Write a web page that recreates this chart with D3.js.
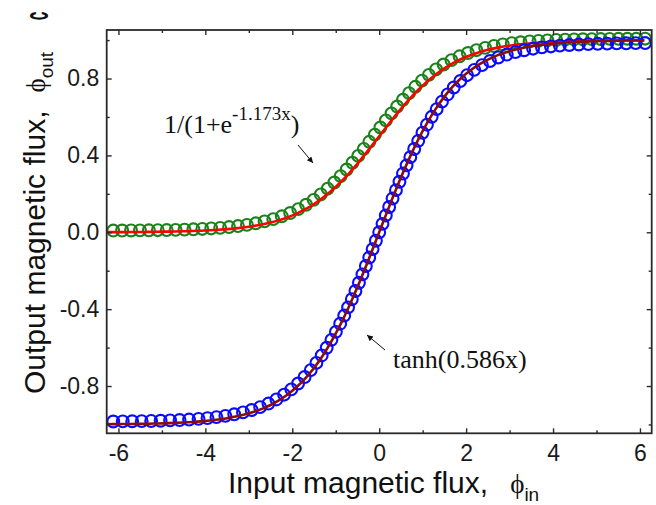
<!DOCTYPE html>
<html><head><meta charset="utf-8">
<script src="https://cdn.jsdelivr.net/npm/d3@7"></script>
<style>body{margin:0;background:#fff}svg{display:block}</style>
</head><body><svg id="chart" width="656" height="505"></svg>
<script>
// ---- data ----
// green circles (sigmoid-type output)
const sigmoidX = [-6.120,-5.915,-5.710,-5.505,-5.300,-5.095,-4.890,-4.685,-4.480,-4.275,-4.070,-3.865,-3.660,-3.455,-3.249,-3.044,-2.840,-2.638,-2.438,-2.241,-2.049,-1.862,-1.682,-1.509,-1.343,-1.185,-1.032,-0.887,-0.748,-0.614,-0.483,-0.354,-0.227,
  -0.100,0.027,0.154,0.283,0.414,0.548,0.687,0.832,0.985,1.143,1.309,1.482,1.662,1.849,2.041,2.238,2.438,2.640,2.844,3.049,3.255,3.460,3.664,3.869,4.073,4.278,4.483,4.687,4.892,5.096,5.301,5.506,5.710,5.915,6.119];
const sigmoidY = [0.0089,0.0091,0.0094,0.0098,0.0103,0.0109,0.0116,0.0126,0.0139,0.0154,0.0174,0.0200,0.0231,0.0272,0.0323,0.0387,0.0466,0.0565,0.0685,0.0831,0.1003,0.1204,0.1432,0.1687,0.1968,0.2268,0.2590,0.2923,0.3266,0.3617,0.3975,0.4340,0.4708,
  0.5080,0.5452,0.5820,0.6185,0.6543,0.6894,0.7237,0.7570,0.7892,0.8192,0.8473,0.8728,0.8956,0.9157,0.9329,0.9475,0.9595,0.9694,0.9773,0.9837,0.9888,0.9929,0.9960,0.9986,1.0006,1.0021,1.0034,1.0044,1.0051,1.0057,1.0062,1.0066,1.0069,1.0071,1.0073];
// blue circles (tanh-type output)
const tanhX = [-6.119,-5.901,-5.683,-5.465,-5.247,-5.029,-4.811,-4.593,-4.375,-4.157,-3.951,-3.745,-3.540,-3.336,-3.134,-2.935,-2.740,-2.549,-2.365,-2.188,-2.022,-1.866,-1.716,-1.575,-1.445,-1.323,-1.208,-1.099,-0.996,-0.898,-0.805,-0.716,-0.630,-0.547,-0.466,-0.386,-0.307,-0.229,-0.152,-0.076,
  0,0.076,0.152,0.229,0.307,0.386,0.466,0.547,0.630,0.716,0.805,0.898,0.996,1.099,1.208,1.323,1.445,1.575,1.716,1.866,2.022,2.188,2.365,2.549,2.740,2.935,3.134,3.336,3.540,3.745,3.951,4.157,4.375,4.593,4.811,5.029,5.247,5.465,5.683,5.901,6.119];
const tanhY = [-0.9845,-0.9840,-0.9834,-0.9827,-0.9818,-0.9806,-0.9790,-0.9770,-0.9744,-0.9710,-0.9670,-0.9619,-0.9553,-0.9472,-0.9372,-0.9247,-0.9096,-0.8913,-0.8699,-0.8451,-0.8174,-0.7870,-0.7532,-0.7171,-0.6797,-0.6409,-0.6008,-0.5597,-0.5180,-0.4757,-0.4334,-0.3910,-0.3483,-0.3056,-0.2628,-0.2193,-0.1755,-0.1315,-0.0876,-0.0439,
  0,0.0439,0.0876,0.1315,0.1755,0.2193,0.2628,0.3056,0.3483,0.3910,0.4334,0.4757,0.5180,0.5597,0.6008,0.6409,0.6797,0.7171,0.7532,0.7870,0.8174,0.8451,0.8699,0.8913,0.9096,0.9247,0.9372,0.9472,0.9553,0.9619,0.9670,0.9710,0.9744,0.9770,0.9790,0.9806,0.9818,0.9827,0.9834,0.9840,0.9845];
// fitted curves
const fitX = [-6.28,-6.1,-5.9,-5.7,-5.5,-5.3,-5.1,-4.9,-4.7,-4.5,-4.3,-4.1,-3.9,-3.7,-3.5,-3.3,-3.1,-2.9,-2.7,-2.5,-2.3,-2.1,-1.9,-1.7,-1.5,-1.3,-1.1,-0.9,-0.7,-0.5,-0.3,-0.1,
  0.1,0.3,0.5,0.7,0.9,1.1,1.3,1.5,1.7,1.9,2.1,2.3,2.5,2.7,2.9,3.1,3.3,3.5,3.7,3.9,4.1,4.3,4.5,4.7,4.9,5.1,5.3,5.5,5.7,5.9,6.1];
const sigmoidFit = [0.0006,0.0008,0.0010,0.0012,0.0016,0.0020,0.0025,0.0032,0.0040,0.0051,0.0064,0.0081,0.0102,0.0129,0.0162,0.0205,0.0257,0.0323,0.0405,0.0507,0.0632,0.0786,0.0973,0.1200,0.1470,0.1789,0.2160,0.2583,0.3057,0.3575,0.4130,0.4707,
  0.5293,0.5870,0.6425,0.6943,0.7417,0.7840,0.8211,0.8530,0.8800,0.9027,0.9214,0.9368,0.9493,0.9595,0.9677,0.9743,0.9795,0.9838,0.9871,0.9898,0.9919,0.9936,0.9949,0.9960,0.9968,0.9975,0.9980,0.9984,0.9988,0.9990,0.9992];
const tanhFit = [-0.9987,-0.9984,-0.9980,-0.9975,-0.9968,-0.9960,-0.9949,-0.9936,-0.9919,-0.9898,-0.9871,-0.9838,-0.9795,-0.9742,-0.9675,-0.9590,-0.9485,-0.9353,-0.9190,-0.8986,-0.8735,-0.8428,-0.8053,-0.7600,-0.7059,-0.6422,-0.5680,-0.4834,-0.3886,-0.2849,-0.1740,-0.0585,
  0.0585,0.1740,0.2849,0.3886,0.4834,0.5680,0.6422,0.7059,0.7600,0.8053,0.8428,0.8735,0.8986,0.9190,0.9353,0.9485,0.9590,0.9675,0.9742,0.9795,0.9838,0.9871,0.9898,0.9919,0.9936,0.9949,0.9960,0.9968,0.9975,0.9980,0.9984];
const xTicks = [-6,-4,-2,0,2,4,6];
const xMinorTicks = [-5,-3,-1,1,3,5];
const yTicks = [-0.8,-0.4,0.0,0.4,0.8];
const yMinorTicks = [-1.0,-0.6,-0.2,0.2,0.6,1.0];
const xTitle = "Input magnetic flux,";
const yTitle = "Output magnetic flux,";
const sigmoidLabel = ["1/(1+e", "-1.173x", ")"];
const tanhLabel = "tanh(0.586x)";

// ---- drawing ----
const W = 656, H = 505;
const m = {l:106.7, t:30, r:4.3, b:71.7};
const svg = d3.select("#chart");
svg.append("rect").attr("width",W).attr("height",H).attr("fill","#fff");

const x = d3.scaleLinear().domain([-6.27, 6.27]).range([m.l, W - m.r]);
const y = d3.scaleLinear().domain([-1.046, 1.0525]).range([H - m.b, m.t]);

const sans = "'Liberation Sans', Arial, Helvetica, sans-serif";
const serif = "'Liberation Serif', 'Times New Roman', 'DejaVu Serif', serif";
const axisColor = "#2a2a2a";

const defs = svg.append("defs");
defs.append("clipPath").attr("id","plotclip")
  .append("rect").attr("x",m.l).attr("y",m.t).attr("width",W-m.l-m.r).attr("height",H-m.t-m.b);

const plot = svg.append("g").attr("clip-path","url(#plotclip)");

function drawCircles(xs, ys, color) {
  plot.append("g").selectAll("circle").data(xs.map((d,i)=>[d, ys[i]])).join("circle")
    .attr("cx", d => x(d[0])).attr("cy", d => y(d[1])).attr("r", 5.9)
    .attr("fill","none").attr("stroke", color).attr("stroke-width", 2.1);
}
function drawLine(vals, color) {
  plot.append("path").datum(fitX.map((d,i)=>[d, vals[i]]))
    .attr("fill","none").attr("stroke", color).attr("stroke-width", 2.6)
    .attr("d", d3.line().x(d=>x(d[0])).y(d=>y(d[1])).curve(d3.curveMonotoneX));
}
drawCircles(sigmoidX, sigmoidY, "#1a821a");
drawLine(sigmoidFit, "#ff0000");
drawCircles(tanhX, tanhY, "#0a0aff");
drawLine(tanhFit, "#8a0c0c");

// axes
function styleAxis(g) {
  g.select(".domain").remove();
  g.selectAll(".tick line").attr("stroke", axisColor).attr("stroke-width", 1.4);
  g.selectAll("text").attr("font-family", sans).attr("font-size", 23).attr("fill", "#1a1a1a");
}
const fmtX = d => d3.format("d")(d).replace("−","-");
const fmtY = d => d3.format(".1f")(d).replace("−","-");

svg.append("g").attr("transform",`translate(0,${H-m.b})`)
  .call(d3.axisBottom(x).tickValues(xTicks).tickSize(-5).tickPadding(11).tickFormat(fmtX)).call(styleAxis);
svg.append("g").attr("transform",`translate(0,${H-m.b})`)
  .call(d3.axisBottom(x).tickValues(xMinorTicks).tickSize(-3).tickFormat("")).call(styleAxis);
svg.append("g").attr("transform",`translate(0,${m.t})`)
  .call(d3.axisTop(x).tickValues(xTicks).tickSize(-5).tickFormat("")).call(styleAxis);
svg.append("g").attr("transform",`translate(0,${m.t})`)
  .call(d3.axisTop(x).tickValues(xMinorTicks).tickSize(-3).tickFormat("")).call(styleAxis);
svg.append("g").attr("transform",`translate(${m.l},0)`)
  .call(d3.axisLeft(y).tickValues(yTicks).tickSize(-5).tickPadding(7.4).tickFormat(fmtY)).call(styleAxis);
svg.append("g").attr("transform",`translate(${m.l},0)`)
  .call(d3.axisLeft(y).tickValues(yMinorTicks).tickSize(-3).tickFormat("")).call(styleAxis);
svg.append("g").attr("transform",`translate(${W-m.r},0)`)
  .call(d3.axisRight(y).tickValues(yTicks).tickSize(-5).tickFormat("")).call(styleAxis);
svg.append("g").attr("transform",`translate(${W-m.r},0)`)
  .call(d3.axisRight(y).tickValues(yMinorTicks).tickSize(-3).tickFormat("")).call(styleAxis);

svg.append("rect").attr("x",m.l).attr("y",m.t).attr("width",W-m.l-m.r).attr("height",H-m.t-m.b)
  .attr("fill","none").attr("stroke",axisColor).attr("stroke-width",1.8);

// axis titles
const xt = svg.append("text").attr("x", 228).attr("y", 493)
  .attr("font-family", sans).attr("font-size", 30).attr("fill", "#111");
xt.append("tspan").text(xTitle);
xt.append("tspan").attr("dx", 22).attr("font-family", serif).attr("font-size", 27).text("ϕ");
xt.append("tspan").attr("dy", 8).attr("font-size", 19).text("in");

const yt = svg.append("text").attr("transform", "translate(45,394) rotate(-90)")
  .attr("font-family", sans).attr("font-size", 30).attr("fill", "#111");
yt.append("tspan").text(yTitle);
yt.append("tspan").attr("dx", 18).attr("font-family", serif).attr("font-size", 27).text("ϕ");
yt.append("tspan").attr("dy", 8).attr("font-size", 19).text("out");

// annotations
const s1 = svg.append("text").attr("x", 164).attr("y", 132.5)
  .attr("font-family", serif).attr("font-size", 26).attr("fill", "#111");
s1.append("tspan").text(sigmoidLabel[0]);
s1.append("tspan").attr("dy", -13).attr("font-size", 19).text(sigmoidLabel[1]);
s1.append("tspan").attr("dy", 13).text(sigmoidLabel[2]);

svg.append("text").attr("x", 393).attr("y", 368)
  .attr("font-family", serif).attr("font-size", 26).attr("fill", "#111").text(tanhLabel);

defs.append("marker").attr("id","ah").attr("viewBox","0 0 10 10").attr("refX",10).attr("refY",5)
  .attr("markerWidth",8).attr("markerHeight",6).attr("markerUnits","userSpaceOnUse").attr("orient","auto")
  .append("path").attr("d","M0,0 L10,5 L0,10 Z").attr("fill","#111");
svg.append("line").attr("x1",298).attr("y1",145).attr("x2",313).attr("y2",163)
  .attr("stroke","#111").attr("stroke-width",1).attr("marker-end","url(#ah)");
svg.append("line").attr("x1",385).attr("y1",350).attr("x2",367).attr("y2",335)
  .attr("stroke","#111").attr("stroke-width",1).attr("marker-end","url(#ah)");

// cropped panel mark in top-left corner (rotated letter, opening upward)
svg.append("text").attr("transform","translate(36,16) scale(1.4,0.65) rotate(-90)")
  .attr("font-family", sans).attr("font-weight","bold").attr("font-size", 24).attr("fill","#111")
  .attr("text-anchor","middle").attr("dominant-baseline","central").text("c");
</script></body></html>
